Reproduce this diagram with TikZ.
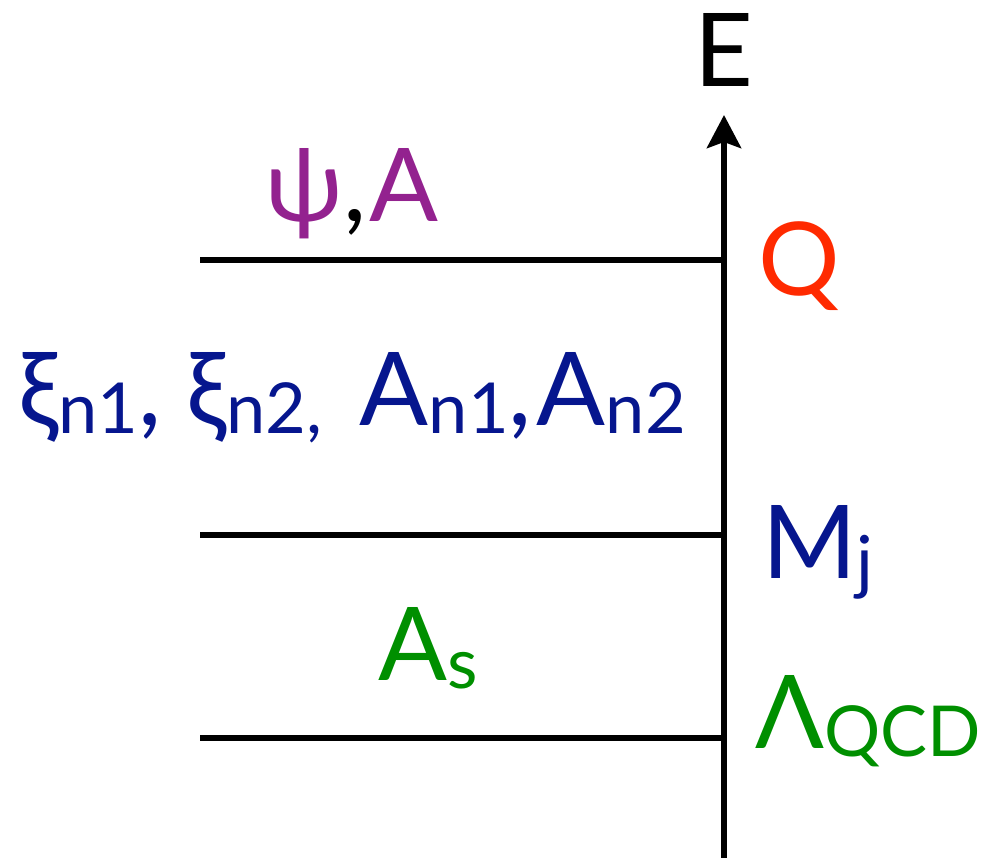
\documentclass[tikz,border=0pt]{standalone}
\usepackage{fontspec}
\setmainfont{Lato}
\usetikzlibrary{arrows.meta}

\definecolor{fieldpurple}{HTML}{93228F}
\definecolor{scalered}{HTML}{FF2A00}
\definecolor{scaleblue}{HTML}{06168E}
\definecolor{scalegreen}{HTML}{008F00}

% small lowered index
\newcommand{\lowsub}[1]{\raisebox{-0.17cm}{\fontsize{40}{44}\selectfont #1}}

\begin{document}
\begin{tikzpicture}[
    x=0.02cm, y=-0.02cm,
    level/.style={line width=0.13cm},
    axis/.style={line width=0.13cm, -{Stealth[length=0.66cm, width=0.68cm, inset=0.12cm]}},
    lbl/.style={inner sep=0pt, font=\fontsize{58}{62}\selectfont},
]
\useasboundingbox (0,0) rectangle (991,858);

% Energy axis
\coordinate (axbot) at (724,858);
\coordinate (axtop) at (724,115);
\draw[axis] (axbot) -- (axtop);
\node[lbl, anchor=base] (E) at (724,87) {E};

% Scales on the axis
\coordinate (qR)   at (724,260);
\coordinate (qL)   at (200,260);
\coordinate (mjR)  at (724,535);
\coordinate (mjL)  at (200,535);
\coordinate (lamR) at (724,738);
\coordinate (lamL) at (200,738);

\draw[level] (qL) -- (qR);
\draw[level] (mjL) -- (mjR);
\draw[level] (lamL) -- (lamR);

% Scale labels
\node[lbl, anchor=base west, text=scalered] (Q) at (758,296) {Q};
\node[lbl, anchor=base west, text=scaleblue] (Mj) at (762,578) {M\lowsub{j}};
\node[lbl, anchor=base west, text=scalegreen] (Lqcd) at (755,748) {Λ\lowsub{QCD}};

% Fields in each region
\node[lbl, anchor=base, text=fieldpurple] (psiA) at (352,222) {ψ{\color{black},}\kern0.05cm A};
\node[lbl, anchor=base, text=scaleblue] (xiA) at (352,425)
    {ξ\lowsub{n1},\hspace{0.5cm}ξ\lowsub{n2,}\hspace{0.75cm}A\lowsub{n1},\kern0.1cm A\lowsub{n2}};
\node[lbl, anchor=base, text=scalegreen] (As) at (428,680) {A\lowsub{s}};

\end{tikzpicture}
\end{document}
